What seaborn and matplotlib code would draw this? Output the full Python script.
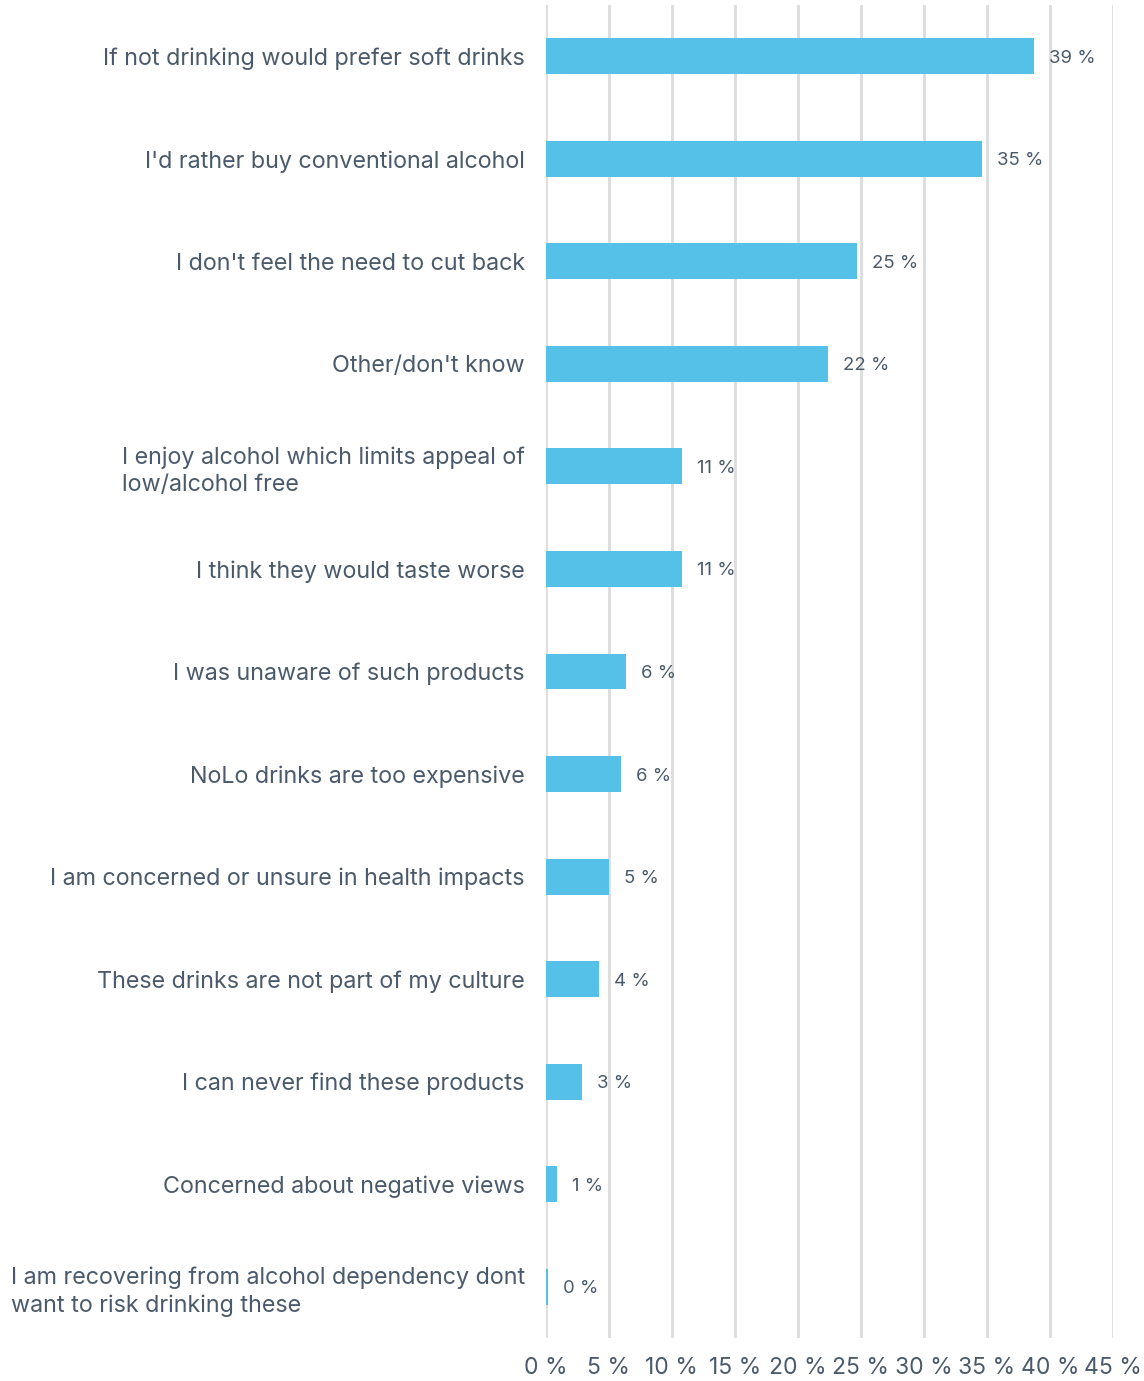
import matplotlib
matplotlib.use("Agg")
import matplotlib.pyplot as plt
import seaborn as sns
import pandas as pd

# Reasons for not choosing low / no alcohol drinks (% of respondents)
reasons = [
    "If not drinking would prefer soft drinks",
    "I'd rather buy conventional alcohol",
    "I don't feel the need to cut back",
    "Other/don't know",
    "I enjoy alcohol which limits appeal of\nlow/alcohol free",
    "I think they would taste worse",
    "I was unaware of such products",
    "NoLo drinks are too expensive",
    "I am concerned or unsure in health impacts",
    "These drinks are not part of my culture",
    "I can never find these products",
    "Concerned about negative views",
    "I am recovering from alcohol dependency dont\nwant to risk drinking these",
]
shares = [38.7, 34.6, 24.7, 22.4, 10.8, 10.8, 6.4, 6.0, 5.0, 4.2, 2.9, 0.9, 0.2]
x_ticks = [0, 5, 10, 15, 20, 25, 30, 35, 40, 45]

BAR = "#56c1e8"
TEXT = "#4a5a6b"
GRID = "#dcdcdc"

sns.set_theme(style="white")
plt.rcParams["font.family"] = ["Inter", "DejaVu Sans"]

df = pd.DataFrame({"reason": reasons, "share": shares})

fig = plt.figure(figsize=(11.44, 13.81), dpi=100)
ax = fig.add_axes([0.477, 0.0311, 0.496, 0.9653])

sns.barplot(data=df, x="share", y="reason", orient="h", color=BAR,
            saturation=1, width=0.35, linewidth=0, ax=ax, zorder=3)

ax.set_xlim(0, 45)
ax.set_ylim(len(reasons) - 0.5, -0.5)
ax.set_xticks(x_ticks)
ax.set_xticklabels([f"{t} %" for t in x_ticks])
ax.set_xlabel("")
ax.set_ylabel("")

for s in ax.spines.values():
    s.set_visible(False)
ax.grid(False)
for t in x_ticks:
    ax.axvline(t, color=GRID, lw=2, zorder=1)

ax.tick_params(axis="x", length=0, pad=14, labelsize=16.5, labelcolor=TEXT)
ax.tick_params(axis="y", length=0, pad=15, labelsize=16.8, labelcolor=TEXT)
for lab in ax.get_yticklabels():
    lab.set_multialignment("left")
    lab.set_linespacing(1.3)

for i, v in enumerate(shares):
    ax.annotate(f"{round(v):.0f} %", xy=(v, i), xytext=(15, -2),
                textcoords="offset pixels", va="center", ha="left",
                fontsize=13.4, color=TEXT, zorder=4)

fig.savefig("out.png", dpi=100)
